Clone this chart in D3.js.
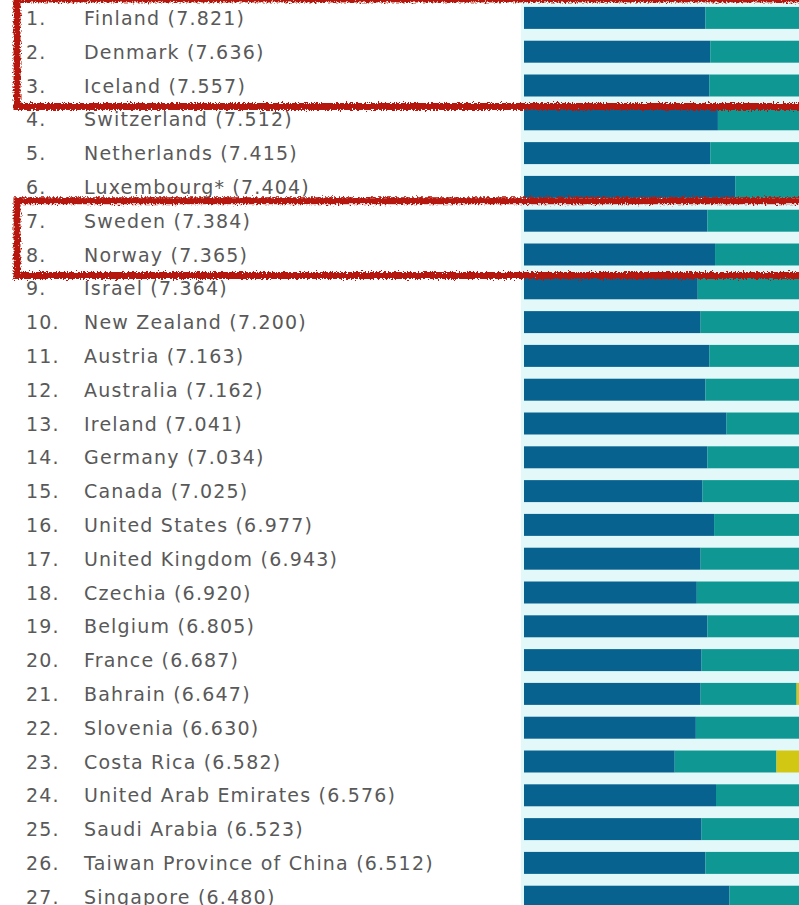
<!DOCTYPE html>
<html>
<head>
<meta charset="utf-8">
<script src="https://cdn.jsdelivr.net/npm/d3@7"></script>
<style>
  html, body { margin: 0; padding: 0; background: #fff; overflow: hidden; }
  svg { display: block; }
  .label { font-family: "DejaVu Sans", sans-serif; font-size: 19px; letter-spacing: 1.2px; fill: #595959; }
</style>
</head>
<body>
<svg id="chart"></svg>
<script>
// ranking rows (World Happiness Report, top 27)
var countries = ["Finland", "Denmark", "Iceland", "Switzerland", "Netherlands", "Luxembourg*",
    "Sweden", "Norway", "Israel", "New Zealand", "Austria", "Australia", "Ireland", "Germany",
    "Canada", "United States", "United Kingdom", "Czechia", "Belgium", "France", "Bahrain",
    "Slovenia", "Costa Rica", "United Arab Emirates", "Saudi Arabia", "Taiwan Province of China",
    "Singapore"];
var scores = ["7.821", "7.636", "7.557", "7.512", "7.415", "7.404", "7.384", "7.365", "7.364",
    "7.200", "7.163", "7.162", "7.041", "7.034", "7.025", "6.977", "6.943", "6.920", "6.805",
    "6.687", "6.647", "6.630", "6.582", "6.576", "6.523", "6.512", "6.480"];
// explained by GDP per capita (dark blue)
var gdp = [1.89, 1.94, 1.93, 2.02, 1.94, 2.20, 1.91, 1.99, 1.81, 1.84, 1.93, 1.89, 2.11, 1.91,
    1.86, 1.98, 1.84, 1.80, 1.91, 1.85, 1.84, 1.79, 1.57, 2.00, 1.85, 1.89, 2.14];
// explained by social support (teal) - mostly runs past the crop
var social = [1.58, 1.55, 1.62, 1.46, 1.50, 1.42, 1.51, 1.54, 1.52, 1.57, 1.44, 1.55, 1.52, 1.47,
    1.49, 1.47, 1.47, 1.56, 1.48, 1.47, 1.00, 1.55, 1.06, 1.30, 1.36, 1.43, 1.35];
// explained by healthy life expectancy (yellow)
var health = [0.54, 0.55, 0.56, 0.58, 0.55, 0.55, 0.56, 0.57, 0.58, 0.54, 0.55, 0.57, 0.55, 0.54,
    0.56, 0.45, 0.53, 0.53, 0.53, 0.56, 0.52, 0.53, 0.57, 0.50, 0.45, 0.55, 0.59];

var width = 799, height = 905;
var colors = ["#08628f", "#0f9893", "#d2c814"];

var rows = countries.map(function(c, i) {
    return { rank: i + 1, name: c, score: scores[i], parts: [gdp[i], social[i], health[i]] };
});

var svg = d3.select("#chart").attr("width", width).attr("height", height);

var y = d3.scaleBand()
    .domain(rows.map(function(d) { return d.rank; }))
    .range([1, 1 + 27 * 33.8])
    .paddingInner(0.35)
    .paddingOuter(0.175);

var x = d3.scaleLinear().domain([0, 3.5]).range([524, 524 + 3.5 * 96]);

// pale band behind the bars
svg.append("rect")
    .attr("x", 521).attr("y", 0)
    .attr("width", width - 521).attr("height", height)
    .attr("fill", "#e3f8f8");

var row = svg.selectAll("g.row").data(rows).enter().append("g")
    .attr("class", "row")
    .attr("transform", function(d) { return "translate(0," + y(d.rank) + ")"; });

row.selectAll("rect").data(function(d) {
    var acc = 0;
    return d.parts.map(function(v, k) {
        var s = { x0: acc, x1: acc + v, k: k };
        acc += v;
        return s;
    });
}).enter().append("rect")
    .attr("x", function(s) { return x(s.x0); })
    .attr("width", function(s) { return x(s.x1) - x(s.x0); })
    .attr("height", y.bandwidth())
    .attr("fill", function(s) { return colors[s.k]; });

row.append("text")
    .attr("class", "label")
    .attr("x", 26)
    .attr("y", y.bandwidth() / 2 + 7)
    .text(function(d) { return d.rank + "."; });

row.append("text")
    .attr("class", "label")
    .attr("x", 84)
    .attr("y", y.bandwidth() / 2 + 7)
    .text(function(d) { return d.name + " (" + d.score + ")"; });

// hand drawn red highlight boxes
var defs = svg.append("defs");
var f = defs.append("filter").attr("id", "rough")
    .attr("x", "-5%").attr("y", "-20%").attr("width", "110%").attr("height", "140%");
f.append("feTurbulence").attr("type", "fractalNoise").attr("baseFrequency", 0.6)
    .attr("numOctaves", 2).attr("result", "noise");
f.append("feDisplacementMap").attr("in", "SourceGraphic").attr("in2", "noise")
    .attr("scale", 6).attr("xChannelSelector", "R").attr("yChannelSelector", "G");

var boxes = [[1, 3], [7, 8]];
svg.selectAll("rect.box").data(boxes).enter().append("rect")
    .attr("class", "box")
    .attr("x", 17)
    .attr("y", function(b) { return y(b[0]) - (b[0] == 1 ? 8 : 9); })
    .attr("width", 830)
    .attr("height", function(b) { return y(b[1]) + y.bandwidth() + 10 - y(b[0]) + (b[0] == 1 ? 8 : 9); })
    .attr("fill", "none")
    .attr("stroke", "#b5190d")
    .attr("stroke-width", 7)
    .attr("filter", "url(#rough)");
</script>
</body>
</html>
